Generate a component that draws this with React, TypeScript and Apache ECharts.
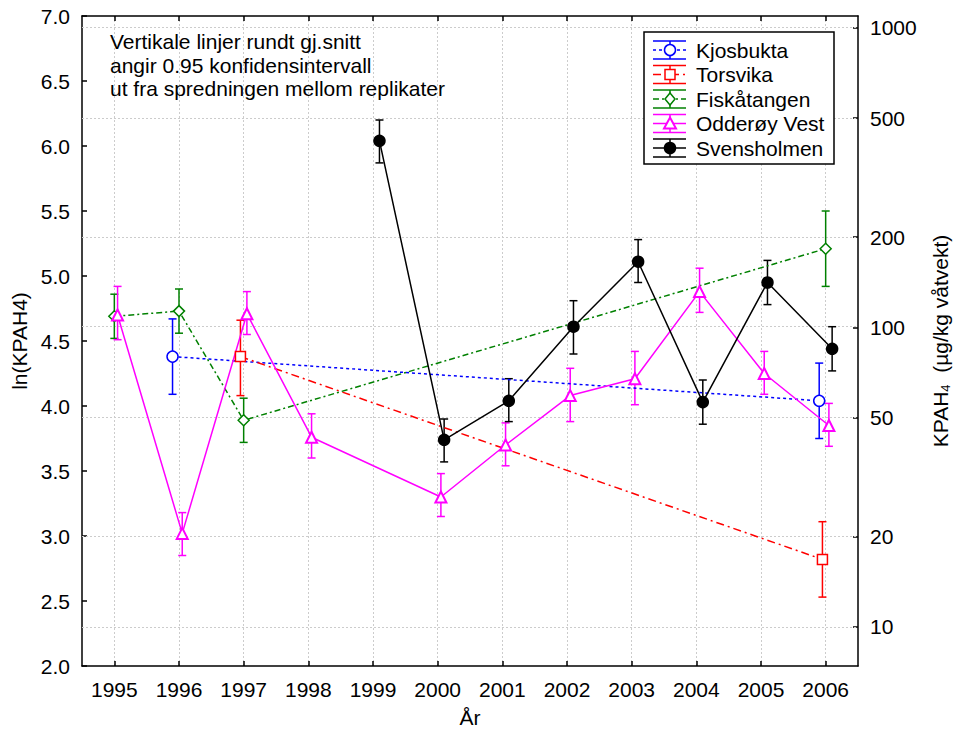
import React, { useEffect, useRef } from 'react';
import * as echarts from 'echarts';

const FONT = '"Liberation Sans", Arial, Helvetica, sans-serif';

// Axis ticks
const yearTicks = [1995, 1996, 1997, 1998, 1999, 2000, 2001, 2002, 2003, 2004, 2005, 2006];
const rightTicks = [10, 20, 50, 100, 200, 500, 1000];

// Kjosbukta
const kjosYears = [1996, 2006];
const kjosMean = [4.38, 4.04];
const kjosLow = [4.09, 3.75];
const kjosHigh = [4.67, 4.33];

// Torsvika
const torsYears = [1997, 2006];
const torsMean = [4.38, 2.82];
const torsLow = [4.08, 2.53];
const torsHigh = [4.66, 3.11];

// Fiskåtangen
const fiskYears = [1995, 1996, 1997, 2006];
const fiskMean = [4.69, 4.73, 3.89, 5.21];
const fiskLow = [4.52, 4.56, 3.72, 4.92];
const fiskHigh = [4.86, 4.90, 4.06, 5.50];

// Odderøy Vest
const oddYears = [1995, 1996, 1997, 1998, 2000, 2001, 2002, 2003, 2004, 2005, 2006];
const oddMean = [4.70, 3.02, 4.71, 3.76, 3.30, 3.70, 4.08, 4.21, 4.88, 4.25, 3.85];
const oddLow = [4.51, 2.85, 4.55, 3.60, 3.15, 3.54, 3.88, 4.01, 4.72, 4.09, 3.69];
const oddHigh = [4.92, 3.18, 4.88, 3.94, 3.48, 3.87, 4.29, 4.42, 5.06, 4.42, 4.02];

// Svensholmen
const svenYears = [1999, 2000, 2001, 2002, 2003, 2004, 2005, 2006];
const svenMean = [6.04, 3.74, 4.04, 4.61, 5.11, 4.03, 4.95, 4.44];
const svenLow = [5.87, 3.57, 3.88, 4.40, 4.95, 3.86, 4.78, 4.27];
const svenHigh = [6.20, 3.90, 4.21, 4.81, 5.28, 4.20, 5.12, 4.61];

const annotationLines = [
  'Vertikale linjer rundt gj.snitt',
  'angir 0.95 konfidensintervall',
  'ut fra spredningen mellom replikater',
];

type Def = {
  name: string; color: string; dash: number[] | 'solid'; symbol: string; filled: boolean;
  size: number; offset: number; years: number[]; mean: number[]; low: number[]; high: number[];
};

const defs: Def[] = [
  { name: 'Kjosbukta', color: '#0000ff', dash: [3, 3], symbol: 'circle', filled: false, size: 11, offset: -0.1, years: kjosYears, mean: kjosMean, low: kjosLow, high: kjosHigh },
  { name: 'Torsvika', color: '#ff0000', dash: [8, 4, 2, 4], symbol: 'rect', filled: false, size: 10, offset: -0.05, years: torsYears, mean: torsMean, low: torsLow, high: torsHigh },
  { name: 'Fiskåtangen', color: '#008000', dash: [6, 3, 2, 3], symbol: 'diamond', filled: false, size: 11, offset: 0, years: fiskYears, mean: fiskMean, low: fiskLow, high: fiskHigh },
  { name: 'Odderøy Vest', color: '#ff00ff', dash: 'solid', symbol: 'triangle', filled: false, size: 11, offset: 0.05, years: oddYears, mean: oddMean, low: oddLow, high: oddHigh },
  { name: 'Svensholmen', color: '#000000', dash: 'solid', symbol: 'circle', filled: true, size: 11, offset: 0.1, years: svenYears, mean: svenMean, low: svenLow, high: svenHigh },
];

function legendMarker(d: Def, cx: number, cy: number): any {
  const style = { fill: d.filled ? d.color : '#fff', stroke: d.color, lineWidth: 1.5 };
  if (d.symbol === 'circle') return { type: 'circle', shape: { cx, cy, r: 5.5 }, style, z: 102 };
  if (d.symbol === 'rect') return { type: 'rect', shape: { x: cx - 5, y: cy - 5, width: 10, height: 10 }, style, z: 102 };
  if (d.symbol === 'diamond') return { type: 'polygon', shape: { points: [[cx, cy - 6], [cx + 5, cy], [cx, cy + 6], [cx - 5, cy]] }, style, z: 102 };
  return { type: 'polygon', shape: { points: [[cx, cy - 6], [cx + 6, cy + 5], [cx - 6, cy + 5]] }, style: { ...style, lineWidth: 2 }, z: 102 };
}

export default function App() {
  const ref = useRef<HTMLDivElement>(null);
  useEffect(() => {
    if (!ref.current) return;
    const chart = echarts.init(ref.current, null, { renderer: 'svg' });

    const series: any[] = [];

    // horizontal grid lines at right-axis (log) ticks
    series.push({
      type: 'line',
      xAxisIndex: 0,
      yAxisIndex: 1,
      data: [],
      z: 1,
      markLine: {
        silent: true,
        z: 1,
        symbol: 'none',
        label: { show: false },
        lineStyle: { color: '#cccccc', type: [2, 2], width: 1 },
        data: rightTicks.map((t) => ({ yAxis: Math.log(t) })),
      },
    });

    defs.forEach((d) => {
      series.push({
        type: 'custom',
        name: d.name + ' CI',
        xAxisIndex: 0,
        yAxisIndex: 0,
        z: 3,
        data: d.years.map((y, i) => [y + d.offset, d.low[i], d.high[i]]),
        encode: { x: 0, y: [1, 2] },
        renderItem: (params: any, api: any) => {
          const x = api.value(0);
          const p1 = api.coord([x, api.value(2)]);
          const p2 = api.coord([x, api.value(1)]);
          const w = 4;
          const style = { stroke: d.color, lineWidth: 1.5, fill: 'none' };
          return {
            type: 'group',
            children: [
              { type: 'line', shape: { x1: p1[0], y1: p1[1], x2: p2[0], y2: p2[1] }, style },
              { type: 'line', shape: { x1: p1[0] - w, y1: p1[1], x2: p1[0] + w, y2: p1[1] }, style },
              { type: 'line', shape: { x1: p2[0] - w, y1: p2[1], x2: p2[0] + w, y2: p2[1] }, style },
            ],
          };
        },
      });
      series.push({
        type: 'line',
        name: d.name,
        xAxisIndex: 0,
        yAxisIndex: 0,
        z: 4,
        data: d.years.map((y, i) => [y + d.offset, d.mean[i]]),
        symbol: d.symbol,
        symbolSize: d.size,
        showSymbol: true,
        lineStyle: { color: d.color, width: 1.5, type: d.dash },
        itemStyle: { color: d.filled ? d.color : '#fff', borderColor: d.color, borderWidth: d.symbol === 'triangle' ? 2 : 1.5 },
      });
    });

    const graphic: any[] = [];
    // annotation
    graphic.push({
      type: 'text',
      left: 110,
      top: 30,
      z: 100,
      style: {
        text: annotationLines.join('\n'),
        fontSize: 21,
        lineHeight: 23.5,
        fontFamily: FONT,
        fill: '#000',
      },
    });
    // legend box
    const lx = 644, ly = 32, lw = 190, lh = 132;
    graphic.push({ type: 'rect', shape: { x: lx, y: ly, width: lw, height: lh }, style: { fill: '#fff', stroke: '#000', lineWidth: 1.5 }, z: 100 });
    defs.forEach((d, i) => {
      const cy = 50 + i * 24.5;
      const x1 = 653, x2 = 686, cx = 670;
      const solid = { stroke: d.color, lineWidth: 1.5 };
      graphic.push({ type: 'line', shape: { x1, y1: cy - 9, x2, y2: cy - 9 }, style: solid, z: 101 });
      graphic.push({ type: 'line', shape: { x1, y1: cy + 9, x2, y2: cy + 9 }, style: solid, z: 101 });
      graphic.push({ type: 'line', shape: { x1: cx, y1: cy - 9, x2: cx, y2: cy + 9 }, style: solid, z: 101 });
      graphic.push({ type: 'line', shape: { x1, y1: cy, x2, y2: cy }, style: { stroke: d.color, lineWidth: 1.5, lineDash: d.dash === 'solid' ? null : d.dash }, z: 101 });
      graphic.push(legendMarker(d, cx, cy));
      graphic.push({
        type: 'text', x: 696, y: cy, z: 102,
        style: { text: d.name, fontSize: 21, fontFamily: FONT, fill: '#000', verticalAlign: 'middle', textVerticalAlign: 'middle' },
      });
    });

    const axisLineStyle = { color: '#000', width: 1.5 };
    const option: any = {
      animation: false,
      backgroundColor: '#fff',
      textStyle: { fontFamily: FONT },
      grid: { left: 82, right: 94, top: 16, bottom: 69, containLabel: false },
      xAxis: [
        {
          type: 'value', min: 1994.5, max: 2006.5, position: 'bottom',
          name: 'År', nameLocation: 'middle', nameGap: 41,
          nameTextStyle: { fontSize: 21, color: '#000', fontFamily: FONT },
          axisLine: { show: true, onZero: false, lineStyle: axisLineStyle },
          axisTick: { show: true, inside: true, length: 5, customValues: yearTicks, lineStyle: { color: '#000', width: 1.5 } },
          axisLabel: { show: true, customValues: yearTicks, fontSize: 21, color: '#000', margin: 13, fontFamily: FONT, formatter: (v: number) => String(Math.round(v)) },
          splitLine: { show: true, lineStyle: { color: '#cccccc', type: [2, 2], width: 1 } },
        },
        {
          type: 'value', min: 1994.5, max: 2006.5, position: 'top',
          axisLine: { show: true, onZero: false, lineStyle: axisLineStyle },
          axisTick: { show: true, inside: true, length: 5, customValues: yearTicks, lineStyle: { color: '#000', width: 1.5 } },
          axisLabel: { show: false },
          splitLine: { show: false },
        },
      ],
      yAxis: [
        {
          type: 'value', min: 2, max: 7, interval: 0.5, position: 'left',
          name: 'ln(KPAH4)', nameLocation: 'middle', nameGap: 52, nameRotate: 90,
          nameTextStyle: { fontSize: 21, color: '#000', fontFamily: FONT },
          axisLine: { show: true, onZero: false, lineStyle: axisLineStyle },
          axisTick: { show: true, inside: true, length: 5, lineStyle: { color: '#000', width: 1.5 } },
          axisLabel: { fontSize: 21, color: '#000', margin: 12, fontFamily: FONT, formatter: (v: number) => v.toFixed(1) },
          splitLine: { show: false },
        },
        {
          type: 'value', min: 2, max: 7, position: 'right',
          name: '{a|KPAH}{s|4}{a|  (µg/kg våtvekt)}', nameLocation: 'middle', nameGap: 70, nameRotate: 90,
          nameTextStyle: {
            fontSize: 21, color: '#000', fontFamily: FONT,
            rich: {
              a: { fontSize: 21, lineHeight: 24, fontFamily: FONT, color: '#000' },
              s: { fontSize: 13, lineHeight: 13, verticalAlign: 'bottom', fontFamily: FONT, color: '#000' },
            },
          },
          axisLine: { show: true, onZero: false, lineStyle: axisLineStyle },
          axisTick: { show: true, inside: true, length: 5, customValues: rightTicks.map((t) => Math.log(t)), lineStyle: { color: '#000', width: 1.5 } },
          axisLabel: { show: true, customValues: rightTicks.map((t) => Math.log(t)), fontSize: 21, color: '#000', margin: 12, fontFamily: FONT, formatter: (v: number) => String(Math.round(Math.exp(v))) },
          splitLine: { show: false },
        },
      ],
      series,
      graphic,
    };
    chart.setOption(option);
    return () => chart.dispose();
  }, []);
  return <div ref={ref} style={{ position: 'absolute', left: 0, top: 0, width: 960, height: 735 }} />;
}
